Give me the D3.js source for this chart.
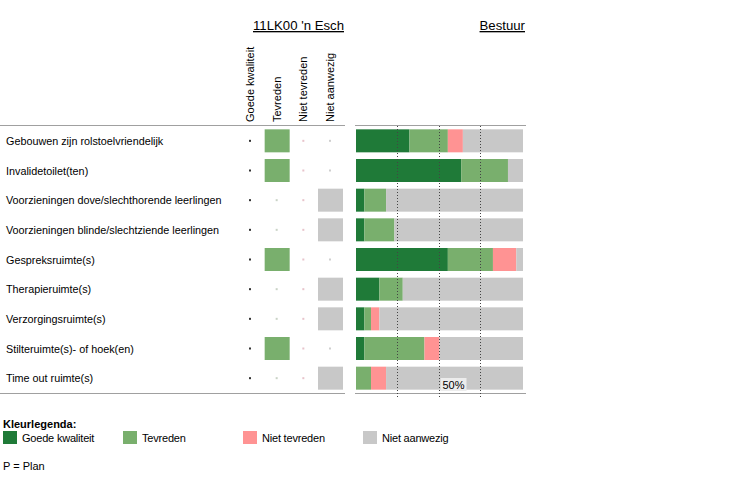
<!DOCTYPE html>
<html><head><meta charset="utf-8">
<script src="https://cdn.jsdelivr.net/npm/d3@7"></script>
<style>body{margin:0;background:#fff;}svg{display:block;font-family:Arial,"Liberation Sans",sans-serif;}</style>
</head><body>
<svg id="c" width="747" height="484"></svg>
<script>
const categories = ["Gebouwen zijn rolstoelvriendelijk","Invalidetoilet(ten)","Voorzieningen dove/slechthorende leerlingen","Voorzieningen blinde/slechtziende leerlingen","Gespreksruimte(s)","Therapieruimte(s)","Verzorgingsruimte(s)","Stilteruimte(s)- of hoek(en)","Time out ruimte(s)"];
const seriesNames = ["Goede kwaliteit","Tevreden","Niet tevreden","Niet aanwezig"];
const seriesColors = ["#1f7a38","#79af6d","#ff9393","#c8c8c8"];
const dotColors = ["#333333","#c9d3c6","#e8c4cb","#cfcfcf"];
const goede = [32,63,5,5,55,14,5,5,0];
const tevreden = [23,28,13,18,27,14,4,36,9];
const nietTevreden = [9,0,0,0,14,0,5,9,9];
const nietAanwezig = [36,9,82,77,4,72,86,50,82];
// school answer: index into seriesNames
const schoolAnswer = [1,1,3,3,1,3,3,1,3];
const gridTicks = [25,50,75];
const labelTicks = [50];
const title = "11LK00 'n Esch";
const title2 = "Bestuur";

const svg = d3.select("#c");
const y = d3.scaleBand().domain(categories).range([126,393]);
const x = d3.scaleLinear().domain([0,100]).range([356,523]);
const colX = d3.scalePoint().domain(seriesNames).range([250,330]);
const barH = 23;

// titles
svg.append("text").attr("x",253).attr("y",30).attr("font-size",13.2).attr("fill","#000").text(title)
  .attr("text-decoration","underline");
svg.append("text").attr("x",525).attr("y",30).attr("text-anchor","end").attr("font-size",13.2).attr("fill","#000").text(title2)
  .attr("text-decoration","underline");

// column headers
seriesNames.forEach(s=>{
  svg.append("text").attr("transform",`translate(${colX(s)+4},122) rotate(-90)`)
    .attr("font-size",11).attr("fill","#000").text(s);
});

// separator lines
svg.append("line").attr("x1",0).attr("x2",345).attr("y1",125.5).attr("y2",125.5).attr("stroke","#a0a0a0");
svg.append("line").attr("x1",355).attr("x2",526).attr("y1",125.5).attr("y2",125.5).attr("stroke","#a0a0a0");
svg.append("line").attr("x1",0).attr("x2",345).attr("y1",393.5).attr("y2",393.5).attr("stroke","#a0a0a0");
svg.append("line").attr("x1",355).attr("x2",526).attr("y1",393.5).attr("y2",393.5).attr("stroke","#a0a0a0");

// row labels
svg.append("g").selectAll("text").data(categories).join("text")
  .attr("x",6).attr("y",d=>y(d)+y.bandwidth()/2+4).attr("font-size",10.8).attr("fill","#000").text(d=>d);

// matrix
categories.forEach((c,i)=>{
  seriesNames.forEach((s,j)=>{
    const cy = y(c)+y.bandwidth()/2;
    if (schoolAnswer[i]===j) {
      svg.append("rect").attr("x",colX(s)-12).attr("y",cy-barH/2).attr("width",25).attr("height",barH).attr("fill",seriesColors[j]);
    } else {
      svg.append("rect").attr("x",colX(s)-1).attr("y",cy-1).attr("width",2).attr("height",2).attr("fill",dotColors[j]);
    }
  });
});

// stacked bars
const rows = categories.map((c,i)=>({cat:c, "Goede kwaliteit":goede[i], "Tevreden":tevreden[i], "Niet tevreden":nietTevreden[i], "Niet aanwezig":nietAanwezig[i]}));
const stack = d3.stack().keys(seriesNames)(rows);
svg.append("g").selectAll("g").data(stack).join("g").attr("fill",(d,i)=>seriesColors[i])
  .selectAll("rect").data(d=>d).join("rect")
  .attr("x",d=>x(d[0])).attr("width",d=>Math.max(0,x(Math.min(100,d[1]))-x(d[0])))
  .attr("y",d=>y(d.data.cat)+y.bandwidth()/2-barH/2).attr("height",barH);

// grid lines
svg.append("g").selectAll("line").data(gridTicks).join("line")
  .attr("x1",d=>Math.round(x(d))-0.5).attr("x2",d=>Math.round(x(d))-0.5).attr("y1",126).attr("y2",398)
  .attr("stroke","#444").attr("stroke-width",1).attr("stroke-dasharray","1,2");

// 50% label
labelTicks.forEach(t=>{
  svg.append("rect").attr("x",x(t)+1).attr("y",378).attr("width",26).attr("height",13).attr("fill","#ececec");
  svg.append("text").attr("x",x(t)+3).attr("y",389).attr("font-size",11).attr("fill","#000").text(t+"%");
});

// legend
svg.append("text").attr("x",3).attr("y",428).attr("font-size",11).attr("font-weight","bold").attr("fill","#000").text("Kleurlegenda:");
seriesNames.forEach((s,i)=>{
  const lx = 3 + i*120;
  svg.append("rect").attr("x",lx).attr("y",431).attr("width",14).attr("height",13).attr("fill",seriesColors[i]);
  svg.append("text").attr("x",lx+19).attr("y",442).attr("font-size",11).attr("fill","#000").attr("letter-spacing","-0.2").text(s);
});
svg.append("text").attr("x",3).attr("y",470).attr("font-size",11).attr("fill","#000").text("P = Plan");
</script>
</body></html>
